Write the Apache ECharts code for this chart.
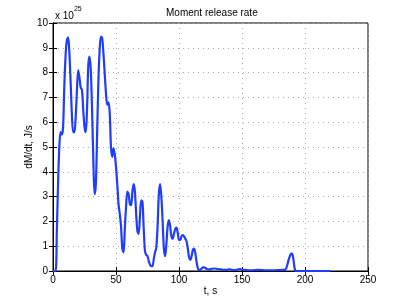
<!DOCTYPE html>
<html><head><meta charset="utf-8">
<script src="https://cdn.jsdelivr.net/npm/echarts@6/dist/echarts.min.js"></script>
<style>html,body{margin:0;padding:0;background:#fff}#c{width:407px;height:306px}</style>
</head><body><div id="c"></div>
<script>
var times = [0,2,3,4,5,6,7,8,9,10,11,12,13,14,15,16,17,18,19,20,21,22,23,24,25,26,27,28,29,30,31,32,33,34,35,36,37,38,39,40,41,42,43,44,45,46,47,48,49,50,51,52,53,54,55,56,57,58,59,60,61,62,63,64,65,66,67,68,69,70,71,72,73,74,75,76,77,78,79,80,81,82,83,84,85,86,87,88,89,90,91,92,93,94,95,96,97,98,99,100,101,102,103,104,105,106,107,108,109,110,111,112,113,114,115,116,117,118,119,120,121,122,124,126,128,130,132,135,138,140,142,145,148,150,153,158,162,165,170,175,180,184,185,186,187,188,189,190,191,192,193,200,210,220];
var rate = [0,0,1.5,3.5,5.0,5.6,5.5,5.8,7.5,8.7,9.3,9.42,8.8,7.6,6.3,5.6,5.6,6.2,7.3,8.1,7.8,7.4,7.3,6.5,5.8,5.6,6.5,8.3,8.65,8.1,6.5,4.5,3.1,3.5,5.5,7.6,8.9,9.45,9.4,8.8,8.0,7.2,6.7,6.8,6.4,5.0,4.6,4.95,4.7,4.2,3.5,2.7,2.3,1.8,0.9,0.75,1.7,2.6,3.2,3.1,2.7,2.65,3.2,3.5,3.2,2.3,1.6,1.5,2.2,2.85,2.8,1.7,0.8,0.65,0.6,0.4,0.25,0.2,0.2,0.5,0.75,0.95,1.8,3.1,3.5,3.0,2.0,0.9,0.6,1.1,1.8,2.05,1.8,1.4,1.3,1.5,1.7,1.75,1.55,1.25,1.25,1.4,1.45,1.4,1.3,1.2,0.9,0.55,0.45,0.6,0.85,0.9,0.7,0.35,0.1,0.03,0.05,0.1,0.15,0.15,0.12,0.08,0.06,0.09,0.1,0.09,0.07,0.05,0.05,0.07,0.05,0.04,0.08,0.06,0.04,0.03,0.05,0.04,0.03,0.03,0.04,0.05,0.1,0.25,0.45,0.6,0.7,0.68,0.4,0.05,0,0,0,0];
var xTicks = [0,50,100,150,200,250];
var yTicks = [0,1,2,3,4,5,6,7,8,9,10];
var titleText = 'Moment release rate';
var xName = 't, s';
var yName = 'dM/dt, J/s';
var scaleExp = '25';

var font = 'Liberation Sans, Arial, sans-serif';
var data = times.map(function(t,i){return [t, rate[i]];});
var chart = echarts.init(document.getElementById('c'), null, {renderer:'canvas'});
var split = {show:true, lineStyle:{type:[1,4], color:'#aaa', width:1}};
chart.setOption({
  animation:false,
  backgroundColor:'#fff',
  title:[
    {text:titleText, top:8, left:166, padding:0, textStyle:{fontFamily:font, fontSize:10, fontWeight:'normal', color:'#000'}},
    {text:'{a|x 10}{b|' + scaleExp + '}', left:55, top:6, padding:0,
     textStyle:{fontWeight:'normal', rich:{a:{fontFamily:font, fontSize:10, fontWeight:'normal', color:'#000', verticalAlign:'bottom'}, b:{fontFamily:font, fontSize:7, fontWeight:'normal', color:'#000', verticalAlign:'top', padding:[0,0,8,0]}}}}
  ],
  grid:{left:53, right:39, top:23, bottom:35, show:true, borderColor:'#000', borderWidth:1, backgroundColor:'#fff'},
  xAxis:[{
    type:'value', min:xTicks[0], max:xTicks[xTicks.length-1], interval:50,
    name:xName, nameLocation:'middle', nameGap:15, nameMoveOverlap:false,
    nameTextStyle:{fontFamily:font, fontSize:10, color:'#000'},
    axisLine:{show:true, lineStyle:{color:'#000', width:1}},
    axisTick:{show:true, inside:true, length:4, lineStyle:{color:'#000'}},
    axisLabel:{fontFamily:font, fontSize:10, color:'#000', margin:4},
    splitLine:split
  },{
    type:'value', position:'top', min:xTicks[0], max:xTicks[xTicks.length-1], interval:50,
    axisLine:{show:true, lineStyle:{color:'#000'}},
    axisTick:{show:true, inside:true, length:4, lineStyle:{color:'#000'}},
    axisLabel:{show:false}, splitLine:{show:false}
  }],
  yAxis:[{
    type:'value', min:yTicks[0], max:yTicks[yTicks.length-1], interval:1,
    name:yName, nameLocation:'middle', nameGap:19, nameMoveOverlap:false,
    nameTextStyle:{fontFamily:font, fontSize:10, color:'#000'},
    axisLine:{show:true, lineStyle:{color:'#000', width:1}},
    axisTick:{show:true, inside:true, length:4, lineStyle:{color:'#000'}},
    axisLabel:{fontFamily:font, fontSize:10, color:'#000', margin:5},
    splitLine:split
  },{
    type:'value', position:'right', min:yTicks[0], max:yTicks[yTicks.length-1], interval:1,
    axisLine:{show:true, lineStyle:{color:'#000'}},
    axisTick:{show:true, inside:true, length:4, lineStyle:{color:'#000'}},
    axisLabel:{show:false}, splitLine:{show:false}
  }],
  series:[{
    type:'line', data:data, smooth:0.3, showSymbol:false, symbol:'none',
    lineStyle:{color:'#1f3cff', width:2.2}, clip:true
  }]
});
</script></body></html>
